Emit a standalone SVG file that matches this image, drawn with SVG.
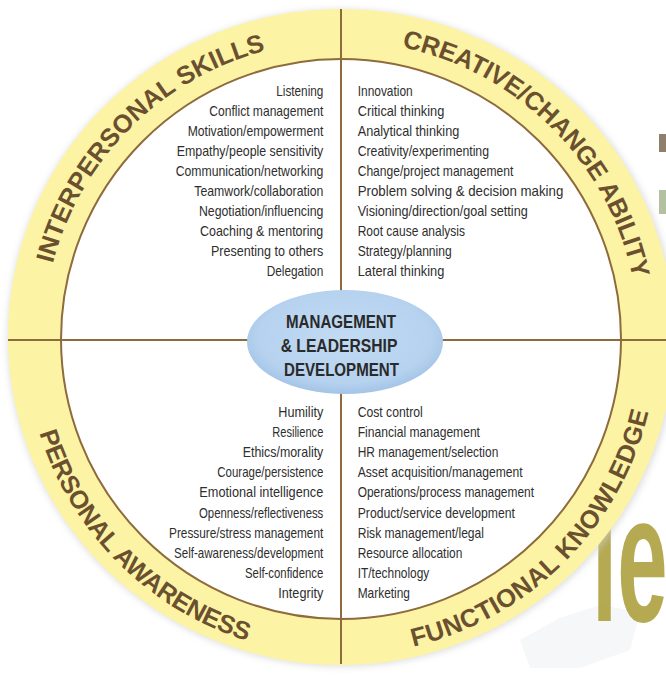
<svg xmlns="http://www.w3.org/2000/svg" width="666" height="675" viewBox="0 0 666 675">
<style>
.item{font-family:"Liberation Sans Narrow","Liberation Sans",Arial,sans-serif;font-size:15px;fill:#2e2e2e}
.l{text-anchor:end}
.lab{font-family:"Liberation Sans",Arial,sans-serif;font-weight:bold;font-size:25.5px;fill:#6b5030}
.ctr{font-family:"Liberation Sans Narrow","Liberation Sans",Arial,sans-serif;font-weight:bold;font-size:19px;fill:#2a2a2a;text-anchor:middle}
.div{stroke:#8e6b3c;stroke-width:2;fill:none}
</style>
<defs>
<path id="pTL" d="M43,339 A298,298 0 0 1 341,41"/>
<path id="pTR" d="M341,41 A298,298 0 0 1 639,339"/>
<path id="pBL" d="M25,339 A316,316 0 0 0 341,655"/>
<path id="pBR" d="M341,655 A316,316 0 0 0 657,339"/>
<radialGradient id="gEll" cx="50%" cy="45%" r="55%">
<stop offset="0" stop-color="#c2dbf3"/>
<stop offset="0.8" stop-color="#b6d2ef"/>
<stop offset="1" stop-color="#a4c4e7"/>
</radialGradient>
<filter id="shadow" x="-10%" y="-10%" width="120%" height="120%">
<feGaussianBlur stdDeviation="3"/>
</filter>
</defs>
<rect width="666" height="675" fill="#ffffff"/>
<g id="background">
<polygon points="520,640 560,618 600,605 640,612 630,650 580,668 530,668" fill="#eceff4" opacity="0.5"/>
<text x="0" y="0" transform="translate(592,621) scale(0.5,1)" font-family="'Liberation Sans',Arial,sans-serif" font-weight="bold" font-size="181" fill="#a89b34" fill-opacity="0.85">le</text>
<rect x="659" y="134" width="7" height="18" fill="#5e4a2e" fill-opacity="0.7"/>
<rect x="659" y="190" width="7" height="24" fill="#7f9a62" fill-opacity="0.6"/>
</g>
<g id="wheel">
<ellipse cx="342" cy="338" rx="335" ry="329" fill="#cfcfcf" filter="url(#shadow)" opacity="0.6"/>
<ellipse cx="341" cy="337" rx="333" ry="328" fill="#fcf4a4"/>
<circle cx="341" cy="339" r="280" fill="#ffffff" stroke="#8e6b3c" stroke-width="2"/>
</g>
<g id="connectors">
<line class="div" x1="341" y1="9" x2="341" y2="664"/>
<line class="div" x1="8" y1="340" x2="666" y2="340"/>
</g>
<g id="interpersonal-skills">
<text class="lab"><textPath href="#pTL" startOffset="50%" text-anchor="middle">INTERPERSONAL SKILLS</textPath></text>
<text class="item l" x="323.3" y="96" textLength="47" lengthAdjust="spacingAndGlyphs">Listening</text>
<text class="item l" x="323.3" y="116" textLength="114" lengthAdjust="spacingAndGlyphs">Conflict management</text>
<text class="item l" x="323.3" y="136" textLength="135.6" lengthAdjust="spacingAndGlyphs">Motivation/empowerment</text>
<text class="item l" x="323.3" y="156" textLength="146.6" lengthAdjust="spacingAndGlyphs">Empathy/people sensitivity</text>
<text class="item l" x="323.3" y="176" textLength="147.6" lengthAdjust="spacingAndGlyphs">Communication/networking</text>
<text class="item l" x="323.3" y="196" textLength="129" lengthAdjust="spacingAndGlyphs">Teamwork/collaboration</text>
<text class="item l" x="323.3" y="216" textLength="124.3" lengthAdjust="spacingAndGlyphs">Negotiation/influencing</text>
<text class="item l" x="323.3" y="236" textLength="123.3" lengthAdjust="spacingAndGlyphs">Coaching &amp; mentoring</text>
<text class="item l" x="323.3" y="256" textLength="112.3" lengthAdjust="spacingAndGlyphs">Presenting to others</text>
<text class="item l" x="323.3" y="276" textLength="56.6" lengthAdjust="spacingAndGlyphs">Delegation</text>
</g>
<g id="creative-change-ability">
<text class="lab" letter-spacing="-0.2"><textPath href="#pTR" startOffset="50%" text-anchor="middle">CREATIVE/CHANGE ABILITY</textPath></text>
<text class="item" x="357.7" y="96" textLength="55" lengthAdjust="spacingAndGlyphs">Innovation</text>
<text class="item" x="357.7" y="116" textLength="86.6" lengthAdjust="spacingAndGlyphs">Critical thinking</text>
<text class="item" x="357.7" y="136" textLength="101.6" lengthAdjust="spacingAndGlyphs">Analytical thinking</text>
<text class="item" x="357.7" y="156" textLength="131.3" lengthAdjust="spacingAndGlyphs">Creativity/experimenting</text>
<text class="item" x="357.7" y="176" textLength="155.6" lengthAdjust="spacingAndGlyphs">Change/project management</text>
<text class="item" x="357.7" y="196" textLength="205.6" lengthAdjust="spacingAndGlyphs">Problem solving &amp; decision making</text>
<text class="item" x="357.7" y="216" textLength="170" lengthAdjust="spacingAndGlyphs">Visioning/direction/goal setting</text>
<text class="item" x="357.7" y="236" textLength="107.3" lengthAdjust="spacingAndGlyphs">Root cause analysis</text>
<text class="item" x="357.7" y="256" textLength="94" lengthAdjust="spacingAndGlyphs">Strategy/planning</text>
<text class="item" x="357.7" y="276" textLength="86.6" lengthAdjust="spacingAndGlyphs">Lateral thinking</text>
</g>
<g id="personal-awareness">
<text class="lab" letter-spacing="-0.3"><textPath href="#pBL" startOffset="50%" text-anchor="middle">PERSONAL AWARENESS</textPath></text>
<text class="item l" x="323.3" y="417" textLength="45" lengthAdjust="spacingAndGlyphs">Humility</text>
<text class="item l" x="323.3" y="437.1" textLength="51" lengthAdjust="spacingAndGlyphs">Resilience</text>
<text class="item l" x="323.3" y="457.2" textLength="80.6" lengthAdjust="spacingAndGlyphs">Ethics/morality</text>
<text class="item l" x="323.3" y="477.3" textLength="106" lengthAdjust="spacingAndGlyphs">Courage/persistence</text>
<text class="item l" x="323.3" y="497.4" textLength="124" lengthAdjust="spacingAndGlyphs">Emotional intelligence</text>
<text class="item l" x="323.3" y="517.5" textLength="124.3" lengthAdjust="spacingAndGlyphs">Openness/reflectiveness</text>
<text class="item l" x="323.3" y="537.6" textLength="154.3" lengthAdjust="spacingAndGlyphs">Pressure/stress management</text>
<text class="item l" x="323.3" y="557.7" textLength="149.3" lengthAdjust="spacingAndGlyphs">Self-awareness/development</text>
<text class="item l" x="323.3" y="577.8" textLength="78.3" lengthAdjust="spacingAndGlyphs">Self-confidence</text>
<text class="item l" x="323.3" y="597.9" textLength="45" lengthAdjust="spacingAndGlyphs">Integrity</text>
</g>
<g id="functional-knowledge">
<text class="lab" letter-spacing="0.45"><textPath href="#pBR" startOffset="50%" text-anchor="middle">FUNCTIONAL KNOWLEDGE</textPath></text>
<text class="item" x="357.7" y="417" textLength="65" lengthAdjust="spacingAndGlyphs">Cost control</text>
<text class="item" x="357.7" y="437.1" textLength="122.3" lengthAdjust="spacingAndGlyphs">Financial management</text>
<text class="item" x="357.7" y="457.2" textLength="140.6" lengthAdjust="spacingAndGlyphs">HR management/selection</text>
<text class="item" x="357.7" y="477.3" textLength="165" lengthAdjust="spacingAndGlyphs">Asset acquisition/management</text>
<text class="item" x="357.7" y="497.4" textLength="176.3" lengthAdjust="spacingAndGlyphs">Operations/process management</text>
<text class="item" x="357.7" y="517.5" textLength="157.3" lengthAdjust="spacingAndGlyphs">Product/service development</text>
<text class="item" x="357.7" y="537.6" textLength="126.3" lengthAdjust="spacingAndGlyphs">Risk management/legal</text>
<text class="item" x="357.7" y="557.7" textLength="104.6" lengthAdjust="spacingAndGlyphs">Resource allocation</text>
<text class="item" x="357.7" y="577.8" textLength="71.6" lengthAdjust="spacingAndGlyphs">IT/technology</text>
<text class="item" x="357.7" y="597.9" textLength="52.3" lengthAdjust="spacingAndGlyphs">Marketing</text>
</g>
<g id="center-node">
<ellipse cx="345" cy="342" rx="98" ry="52" fill="url(#gEll)"/>
<text class="ctr" x="341" y="328" textLength="110" lengthAdjust="spacingAndGlyphs">MANAGEMENT</text>
<text class="ctr" x="339" y="352" textLength="116.7" lengthAdjust="spacingAndGlyphs">&amp; LEADERSHIP</text>
<text class="ctr" x="341.5" y="376" textLength="115" lengthAdjust="spacingAndGlyphs">DEVELOPMENT</text>
</g>
</svg>
